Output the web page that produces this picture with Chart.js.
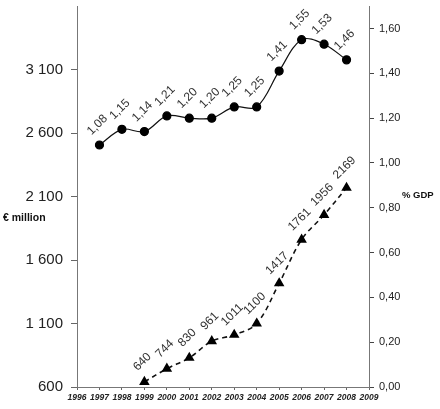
<!DOCTYPE html>
<html><head><meta charset="utf-8">
<script src="https://cdn.jsdelivr.net/npm/chart.js@4.4.1/dist/chart.umd.min.js"></script>
<style>html,body{margin:0;padding:0;background:#fff;}#wrap{width:440px;height:409px;}</style>
</head><body><div id="wrap"><canvas id="c" width="440" height="409"></canvas></div>
<script>
const years = ['1996','1997','1998','1999','2000','2001','2002','2003','2004','2005','2006','2007','2008','2009'];
const gdpShare = [null,1.08,1.15,1.14,1.21,1.20,1.20,1.25,1.25,1.41,1.55,1.53,1.46,null];
const eurMillion = [null,null,null,640,744,830,961,1011,1100,1417,1761,1956,2169,null];
const leftTicks = [600,1100,1600,2100,2600,3100];
const rightTicks = [0,0.2,0.4,0.6,0.8,1.0,1.2,1.4,1.6];

const FONT = '"Liberation Sans", Arial, sans-serif';

function fmtLeft(v){ return v>=1000 ? Math.floor(v/1000)+' '+String(v%1000).padStart(3,'0') : String(v); }
function fmtRight(v){ return v.toFixed(2).replace('.',','); }
function noPad(s){ s.paddingTop=0; s.paddingBottom=0; s.paddingLeft=0; s.paddingRight=0; }

const labelPlugin = {
  id:'labelPlugin',
  afterDatasetsDraw(chart){
    const ctx = chart.ctx;
    ctx.save();
    ctx.font = '12px '+FONT;
    ctx.fillStyle = '#333';
    ctx.textAlign = 'center';
    ctx.textBaseline = 'middle';
    chart.data.datasets.forEach((ds, di)=>{
      const meta = chart.getDatasetMeta(di);
      meta.data.forEach((el, i)=>{
        const v = ds.data[i];
        if(v===null || v===undefined) return;
        const txt = di===0 ? fmtRight(v) : String(v);
        ctx.save();
        ctx.translate(el.x-2, el.y-20);
        ctx.rotate(-Math.PI/4);
        ctx.fillText(txt, 0, 0);
        ctx.restore();
      });
    });
    ctx.font = 'bold 10.5px '+FONT;
    ctx.fillStyle = '#111';
    ctx.textAlign = 'left';
    ctx.fillText('€ million', 3, 218);
    ctx.font = 'bold 9.5px '+FONT;
    ctx.fillText('% GDP', 402, 195);
    ctx.restore();
  }
};

new Chart(document.getElementById('c'), {
  type:'line',
  data:{
    labels: years,
    datasets:[
      {data: gdpShare, yAxisID:'y1', borderColor:'#111', borderWidth:1.2, pointRadius:4, pointBackgroundColor:'#000', pointBorderColor:'#000', pointStyle:'circle', tension:0.35},
      {data: eurMillion, yAxisID:'y', borderColor:'#111', borderWidth:1.6, borderDash:[5,4], pointRadius:4.5, pointBackgroundColor:'#000', pointBorderColor:'#000', pointStyle:'triangle', tension:0.35}
    ]
  },
  options:{
    responsive:false, animation:false, devicePixelRatio:1,
    layout:{padding:{top:5,left:0,right:0,bottom:0}},
    plugins:{legend:{display:false}, tooltip:{enabled:false}},
    scales:{
      x:{
        type:'category', offset:false,
        grid:{display:true, drawOnChartArea:false, drawTicks:true, tickLength:3, color:'#666'},
        border:{display:true, color:'#777', width:1},
        ticks:{autoSkip:false, maxRotation:0, minRotation:0, padding:3, color:'#222', font:{family:FONT, size:8.5, style:'italic', weight:'bold'}},
        afterFit(s){ s.height = 22; noPad(s); }
      },
      y:{
        position:'left', min:600, max:3600,
        afterBuildTicks(s){ s.ticks = leftTicks.map(v=>({value:v})); },
        grid:{display:true, drawOnChartArea:false, drawTicks:true, tickLength:6, color:'#666'},
        border:{display:true, color:'#777', width:1},
        ticks:{padding:8, color:'#222', font:{family:FONT, size:15}, callback:(v)=>fmtLeft(v)},
        afterFit(s){ s.width = 77; noPad(s); }
      },
      y1:{
        position:'right', min:0, max:1.7,
        afterBuildTicks(s){ s.ticks = rightTicks.map(v=>({value:v})); },
        grid:{display:true, drawOnChartArea:false, drawTicks:true, tickLength:5, color:'#444'},
        border:{display:true, color:'#777', width:1},
        ticks:{padding:5, color:'#222', font:{family:FONT, size:11}, callback:(v)=>fmtRight(v)},
        afterFit(s){ s.width = 71; noPad(s); }
      }
    }
  },
  plugins:[labelPlugin]
});
</script></body></html>
